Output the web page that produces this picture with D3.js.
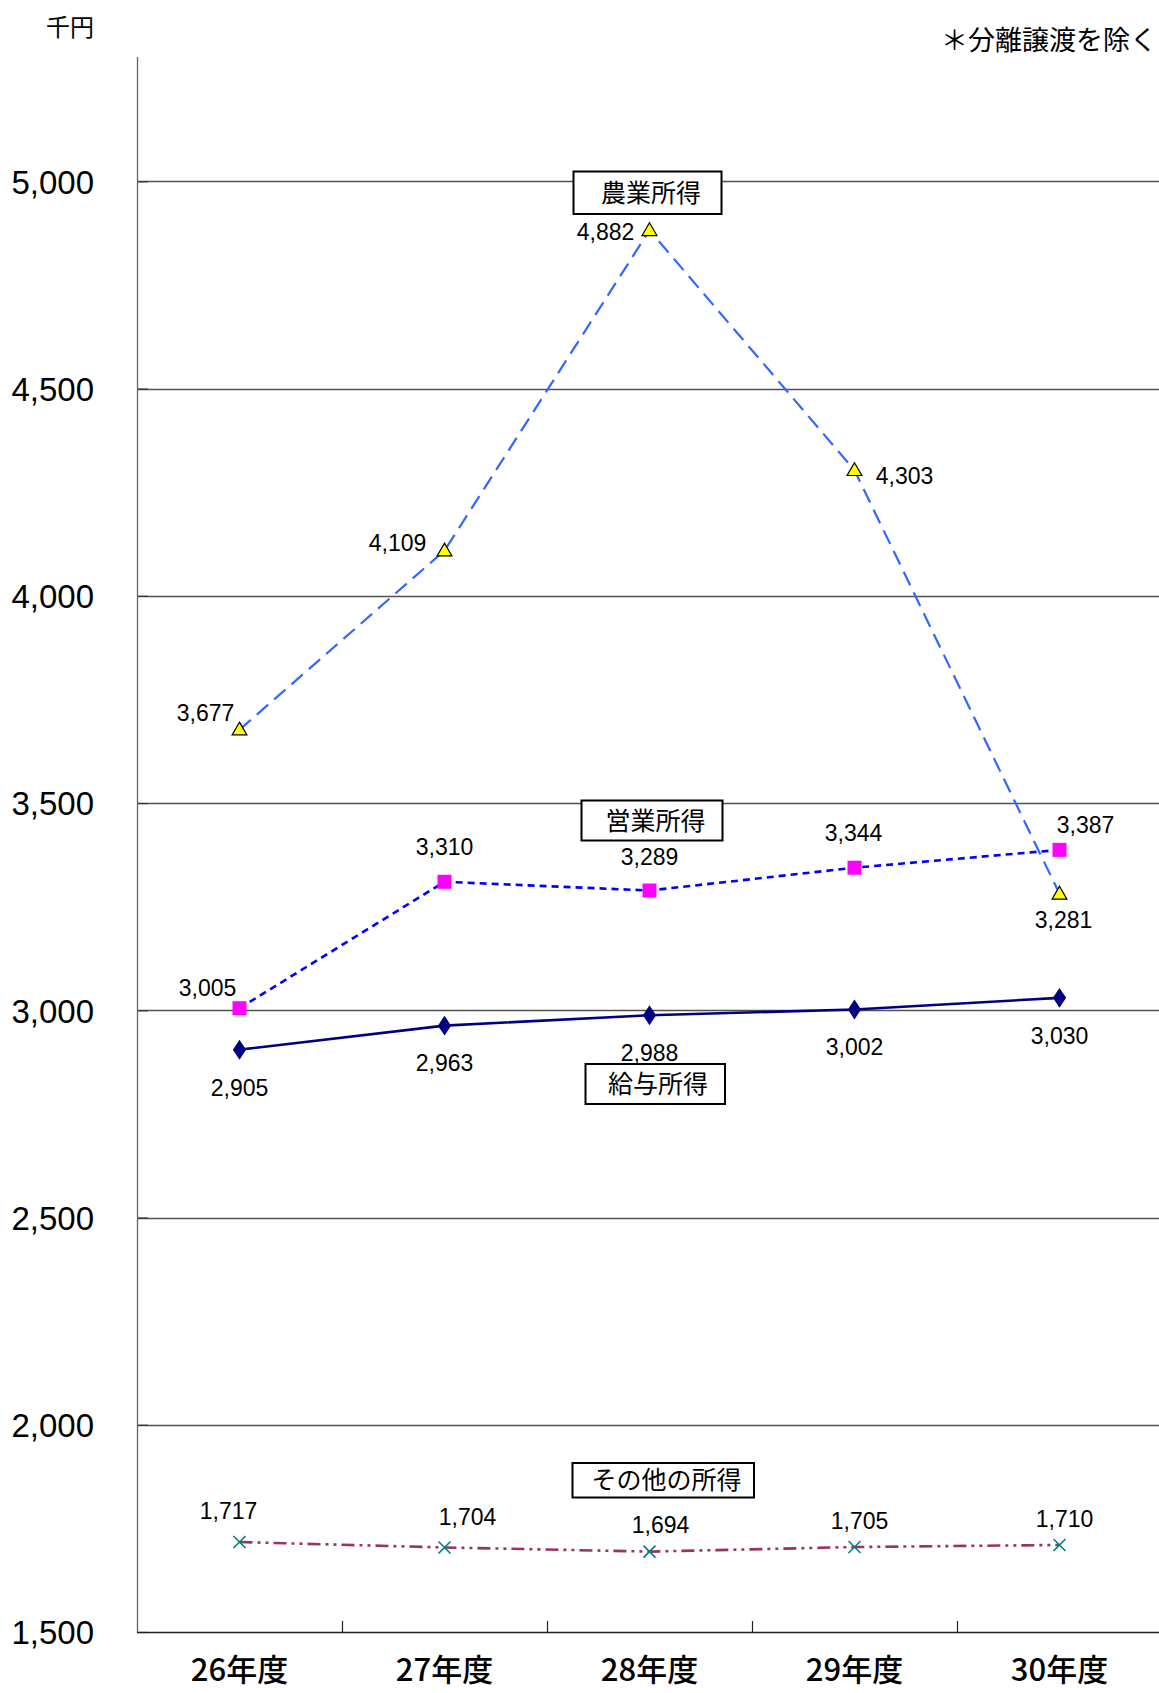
<!DOCTYPE html>
<html lang="ja">
<head>
<meta charset="utf-8">
<script src="https://cdn.jsdelivr.net/npm/d3@7"></script>
<style>
  html, body { margin: 0; padding: 0; background: #fff; }
  svg { display: block; }
  .num { font-family: "Liberation Sans", Arial, sans-serif; fill: #000; }
  .jp { font-family: "Noto Sans CJK JP", sans-serif; fill: #000; }
</style>
</head>
<body>
<svg id="chart" width="1159" height="1693"></svg>
<script>
// Fiscal years on the category axis
const years = ["26年度", "27年度", "28年度", "29年度", "30年度"];
// Average income per person, thousand yen
const farmIncome = [3677, 4109, 4882, 4303, 3281];       // 農業所得
const businessIncome = [3005, 3310, 3289, 3344, 3387];   // 営業所得
const salaryIncome = [2905, 2963, 2988, 3002, 3030];     // 給与所得
const otherIncome = [1717, 1704, 1694, 1705, 1710];      // その他の所得
// Value axis ticks
const yTicks = [1500, 2000, 2500, 3000, 3500, 4000, 4500, 5000];

const svg = d3.select("#chart");
const plot = { left: 137, right: 1162, top: 57, bottom: 1632 };

const x = d3.scaleBand().domain(years).range([plot.left, plot.right]).padding(0);
const y = d3.scaleLinear().domain([1500, 5300]).range([plot.bottom, plot.top]);
const cx = d => x(d) + x.bandwidth() / 2;
const fmt = d3.format(",");

// Horizontal gridlines
svg.append("g")
  .selectAll("line")
  .data(yTicks.filter(v => v > 1500))
  .join("line")
  .attr("x1", plot.left).attr("x2", 1159)
  .attr("y1", d => Math.round(y(d)) + 0.5).attr("y2", d => Math.round(y(d)) + 0.5)
  .attr("stroke", "#505050").attr("stroke-width", 1.3);

// Value axis (ticks point into the plot)
const yAxis = svg.append("g")
  .attr("transform", `translate(${plot.left},0)`)
  .call(d3.axisLeft(y).tickValues(yTicks).tickFormat(fmt).tickSizeInner(-11).tickSizeOuter(0).tickPadding(0));
yAxis.select(".domain").remove();
yAxis.selectAll(".tick line").attr("stroke", "#333").attr("stroke-width", 1.2);
yAxis.selectAll(".tick text")
  .attr("class", "num")
  .attr("x", 94 - plot.left)
  .attr("dy", "0.36em")
  .attr("text-anchor", "end")
  .style("font-size", "33px");
svg.append("line")
  .attr("x1", plot.left + 0.5).attr("x2", plot.left + 0.5)
  .attr("y1", plot.top).attr("y2", plot.bottom)
  .attr("stroke", "#666").attr("stroke-width", 1.3);

// Category axis with boundary ticks pointing up
const xBoundaries = d3.range(years.length + 1).map(i => plot.left + i * x.bandwidth());
svg.append("line")
  .attr("x1", plot.left).attr("x2", 1159)
  .attr("y1", plot.bottom + 0.5).attr("y2", plot.bottom + 0.5)
  .attr("stroke", "#222").attr("stroke-width", 1.4);
svg.append("g").selectAll("line")
  .data(xBoundaries.slice(1, -1))
  .join("line")
  .attr("x1", d => Math.round(d) + 0.5).attr("x2", d => Math.round(d) + 0.5)
  .attr("y1", plot.bottom - 11).attr("y2", plot.bottom)
  .attr("stroke", "#222").attr("stroke-width", 1.2);
svg.append("g").selectAll("text")
  .data(years)
  .join("text")
  .attr("class", "jp")
  .attr("x", d => cx(d))
  .attr("y", 1670)
  .attr("dy", "0.35em")
  .attr("text-anchor", "middle")
  .style("font-size", "31px")
  .style("font-weight", 500)
  .text(d => d);

// Unit and note
svg.append("text").attr("class", "jp")
  .attr("x", 70).attr("y", 28).attr("dy", "0.35em")
  .attr("text-anchor", "middle").style("font-size", "24px").text("千円");
svg.append("text").attr("class", "jp")
  .attr("x", 1157).attr("y", 41).attr("dy", "0.35em")
  .attr("text-anchor", "end").style("font-size", "27px").text("＊分離譲渡を除く");

// Series definitions: line style, marker and label placement
const series = [
  {
    name: "その他の所得", values: otherIncome,
    stroke: "#993366", width: 2.6, dash: "13,5,3,5,3,5", marker: "x",
    labelOffsets: [[-11, -31], [23, -31], [11, -27], [5, -26], [5, -26]],
    box: { x: 572.5, y: 1463, w: 181.5, h: 34.5, tx: 666.5, ty: 1480 }
  },
  {
    name: "給与所得", values: salaryIncome,
    stroke: "#000080", width: 2.6, dash: null, marker: "diamond",
    labelOffsets: [[0, 38], [0, 37.5], [0, 37], [0, 37], [0, 38]],
    box: { x: 585.5, y: 1064, w: 139.5, h: 40, tx: 658, ty: 1084.5 }
  },
  {
    name: "営業所得", values: businessIncome,
    stroke: "#0000ff", width: 2.6, dash: "7,5", marker: "square",
    labelOffsets: [[-32, -20], [0, -35], [0, -34], [-1, -35], [26, -25]],
    box: { x: 581.5, y: 800.5, w: 141, h: 40, tx: 655.5, ty: 821 }
  },
  {
    name: "農業所得", values: farmIncome,
    stroke: "#3366ff", width: 2.2, dash: "15,8", marker: "triangle",
    labelOffsets: [[-34, -17], [-47, -8], [-44, 1], [50, 5], [4, 26]],
    box: { x: 573.5, y: 171.5, w: 148, h: 42.5, tx: 651, ty: 193 }
  }
];

const lineGen = d3.line().x(d => cx(d.year)).y(d => y(d.value));

series.forEach(s => {
  const pts = years.map((yr, i) => ({ year: yr, value: s.values[i] }));
  svg.append("path")
    .datum(pts)
    .attr("d", lineGen)
    .attr("fill", "none")
    .attr("stroke", s.stroke)
    .attr("stroke-width", s.width)
    .attr("stroke-dasharray", s.dash);
});

// Markers drawn after all lines
const symbolGen = {
  triangle: d3.symbol().type(d3.symbolTriangle).size(95),
  square: d3.symbol().type(d3.symbolSquare).size(196),
  diamond: d3.symbol().type(d3.symbolDiamond).size(115)
};
series.forEach(s => {
  const g = svg.append("g");
  years.forEach((yr, i) => {
    const px = cx(yr), py = y(s.values[i]);
    if (s.marker === "x") {
      const r = 6;
      g.append("path")
        .attr("d", `M${px - r},${py - r}L${px + r},${py + r}M${px - r},${py + r}L${px + r},${py - r}`)
        .attr("stroke", "#008080").attr("stroke-width", 1.6).attr("fill", "none");
    } else if (s.marker === "triangle") {
      g.append("path").attr("d", symbolGen.triangle())
        .attr("transform", `translate(${px},${py + 1})`)
        .attr("fill", "#ffff00").attr("stroke", "#000").attr("stroke-width", 1.2);
    } else if (s.marker === "square") {
      g.append("path").attr("d", symbolGen.square())
        .attr("transform", `translate(${px},${py})`)
        .attr("fill", "#ff00ff");
    } else {
      g.append("path").attr("d", symbolGen.diamond())
        .attr("transform", `translate(${px},${py}) scale(1.15,1)`)
        .attr("fill", "#000080");
    }
  });
});

// Data value labels
series.forEach(s => {
  svg.append("g").selectAll("text")
    .data(years.map((yr, i) => ({ yr, v: s.values[i], off: s.labelOffsets[i] })))
    .join("text")
    .attr("class", "num")
    .attr("x", d => cx(d.yr) + d.off[0])
    .attr("y", d => y(d.v) + d.off[1])
    .attr("dy", "0.36em")
    .attr("text-anchor", "middle")
    .style("font-size", "23px")
    .text(d => fmt(d.v));
});

// Series name boxes
series.forEach(s => {
  const b = s.box;
  svg.append("rect")
    .attr("x", b.x).attr("y", b.y).attr("width", b.w).attr("height", b.h)
    .attr("fill", "#fff").attr("stroke", "#000").attr("stroke-width", 2);
  svg.append("text").attr("class", "jp")
    .attr("x", b.tx).attr("y", b.ty).attr("dy", "0.35em")
    .attr("text-anchor", "middle").style("font-size", "25px")
    .text(s.name);
});
</script>
</body>
</html>
